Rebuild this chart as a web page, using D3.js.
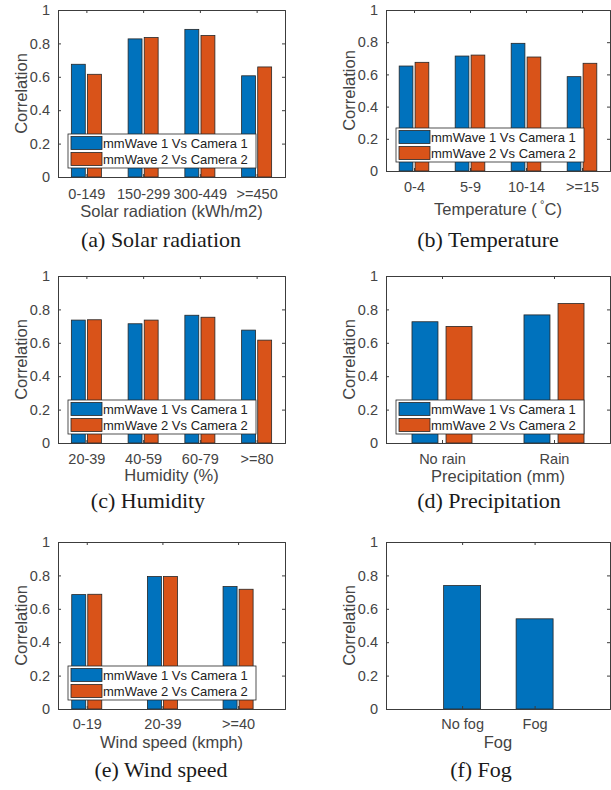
<!DOCTYPE html>
<html>
<head>
<meta charset="utf-8">
<script src="https://cdn.jsdelivr.net/npm/d3@7"></script>
<style>
  body { margin: 0; background: #fff; }
  svg { display: block; }
</style>
</head>
<body>
<svg id="fig" width="611" height="790"></svg>
<script>
// data
var seriesNames = ['mmWave 1 Vs Camera 1', 'mmWave 2 Vs Camera 2'];
var yTicks = [0, 0.2, 0.4, 0.6, 0.8, 1];

var solarCats = ['0-149', '150-299', '300-449', '>=450'];
var solarCam1 = [0.675, 0.827, 0.884, 0.606];
var solarCam2 = [0.615, 0.835, 0.847, 0.659];

var tempCats = ['0-4', '5-9', '10-14', '>=15'];
var tempCam1 = [0.652, 0.714, 0.793, 0.586];
var tempCam2 = [0.675, 0.720, 0.708, 0.669];

var humCats = ['20-39', '40-59', '60-79', '>=80'];
var humCam1 = [0.736, 0.714, 0.765, 0.676];
var humCam2 = [0.738, 0.736, 0.753, 0.616];

var precCats = ['No rain', 'Rain'];
var precCam1 = [0.726, 0.767];
var precCam2 = [0.698, 0.835];

var windCats = ['0-19', '20-39', '>=40'];
var windCam1 = [0.685, 0.793, 0.733];
var windCam2 = [0.687, 0.793, 0.717];

var fogCats = ['No fog', 'Fog'];
var fogCam1 = [0.739, 0.540];

var colors = ['#0072BD', '#D95319'];
var axisColor = '#3c3c3c';
var textColor = '#444';
var sans = '"Liberation Sans", Arial, Helvetica, sans-serif';
var serif = '"Liberation Serif", "Times New Roman", serif';

var svg = d3.select('#fig');

/* panel layout, one entry per subfigure */
var panels = [
  {cats: solarCats, series: [solarCam1, solarCam2], left: 58, right: 285, top: 10, bottom: 177,
   xlim: [0.5, 4.5], barW: 0.245, off: 0.142, xlabel: 'Solar radiation (kWh/m2)', tk: 21.5, lab: 40,
   caption: '(a) Solar radiation', capX: 161, capY: 247, legend: true},
  {cats: tempCats, series: [tempCam1, tempCam2], left: 386, right: 610, top: 10, bottom: 171,
   xlim: [0.5, 4.5], barW: 0.245, off: 0.142, xlabel: 'temp', tk: 21, lab: 44,
   caption: '(b) Temperature', capX: 488, capY: 247, legend: true},
  {cats: humCats, series: [humCam1, humCam2], left: 58, right: 285, top: 276, bottom: 443,
   xlim: [0.5, 4.5], barW: 0.245, off: 0.142, xlabel: 'Humidity (%)', tk: 20.5, lab: 38,
   caption: '(c) Humidity', capX: 148, capY: 508, legend: true},
  {cats: precCats, series: [precCam1, precCam2], left: 386, right: 610, top: 276, bottom: 443,
   xlim: [0.5, 2.5], barW: 0.232, off: 0.152, xlabel: 'Precipitation (mm)', tk: 20.5, lab: 39,
   caption: '(d) Precipitation', capX: 489, capY: 508, legend: true},
  {cats: windCats, series: [windCam1, windCam2], left: 58, right: 285, top: 542, bottom: 709,
   xlim: [0.62, 3.62], barW: 0.185, off: 0.106, xlabel: 'Wind speed (kmph)', tk: 19.5, lab: 38.5,
   caption: '(e) Wind speed', capX: 161, capY: 777, legend: true},
  {cats: fogCats, series: [fogCam1], left: 386, right: 610, top: 542, bottom: 709,
   xlim: [-0.05, 3.04], barW: 0.51, off: 0, xlabel: 'Fog', tk: 19.5, lab: 38.5,
   caption: '(f) Fog', capX: 481, capY: 777, legend: false}
];

panels.forEach(drawPanel);

function drawPanel(p) {
  var g = svg.append('g');
  var x = d3.scaleLinear().domain(p.xlim).range([p.left, p.right]);
  var y = d3.scaleLinear().domain([0, 1]).range([p.bottom, p.top]);
  var xTicks = p.cats.map(function(d, i) { return i + 1; });
  var n = p.series.length;

  // bars
  p.series.forEach(function(vals, s) {
    var shift = n === 1 ? 0 : (s === 0 ? -p.off : p.off);
    g.selectAll('rect.s' + s)
      .data(vals)
      .enter().append('rect')
      .attr('x', function(d, i) { return x(i + 1 + shift - p.barW / 2); })
      .attr('width', function() { return x(p.barW) - x(0); })
      .attr('y', function(d) { return y(d); })
      .attr('height', function(d) { return y(0) - y(d); })
      .style('fill', colors[s])
      .style('stroke', '#262626')
      .style('stroke-width', 0.8);
  });

  // axes: bottom / left with labels, top / right only ticks (box on)
  var tl = -3;
  var bottomAxis = d3.axisBottom(x).tickValues(xTicks).tickSize(tl).tickPadding(10)
    .tickFormat(function(d) { return p.cats[d - 1]; });
  var topAxis = d3.axisTop(x).tickValues(xTicks).tickSize(tl).tickFormat('');
  var leftAxis = d3.axisLeft(y).tickValues(yTicks).tickSize(tl).tickPadding(8)
    .tickFormat(function(d) { return d === 0 || d === 1 ? String(d) : d.toFixed(1); });
  var rightAxis = d3.axisRight(y).tickValues(yTicks).tickSize(tl).tickFormat('');

  var axes = [
    g.append('g').attr('transform', 'translate(0,' + p.bottom + ')').call(bottomAxis),
    g.append('g').attr('transform', 'translate(0,' + p.top + ')').call(topAxis),
    g.append('g').attr('transform', 'translate(' + p.left + ',0)').call(leftAxis),
    g.append('g').attr('transform', 'translate(' + p.right + ',0)').call(rightAxis)
  ];
  axes.forEach(function(a) {
    a.select('.domain').style('stroke', axisColor).style('stroke-width', 1);
    a.selectAll('.tick line').style('stroke', axisColor);
    a.selectAll('text').style('font-family', sans).style('font-size', '14.5px').style('fill', textColor);
  });
  axes[0].selectAll('.tick text').attr('dy', null).attr('y', p.tk);

  // y label
  g.append('text')
    .attr('transform', 'translate(' + (p.left - 31) + ',' + ((p.top + p.bottom) / 2) + ') rotate(-90)')
    .attr('text-anchor', 'middle')
    .style('font-family', sans).style('font-size', '16.5px').style('fill', textColor)
    .text('Correlation');

  // x label
  var xl = g.append('text')
    .attr('x', (p.left + p.right) / 2)
    .attr('y', p.bottom + p.lab)
    .attr('text-anchor', 'middle')
    .style('font-family', sans).style('font-size', '16.5px').style('fill', textColor);
  if (p.xlabel === 'temp') {
    xl.append('tspan').text('Temperature (\u2009');
    xl.append('tspan').attr('dy', -7).style('font-size', '11px').text('\u00b0');
    xl.append('tspan').attr('dy', 7).text('C)');
  } else {
    xl.text(p.xlabel);
  }

  // caption
  g.append('text')
    .attr('x', p.capX).attr('y', p.capY)
    .attr('text-anchor', 'middle')
    .style('font-family', serif).style('font-size', '22px').style('fill', '#1a1a1a')
    .text(p.caption);

  // legend
  if (p.legend) {
    var lx = p.left + 10, ly = p.bottom - 9 - 34;
    var lg = g.append('g').attr('transform', 'translate(' + lx + ',' + ly + ')');
    lg.append('rect').attr('width', 188).attr('height', 34)
      .style('fill', '#fff').style('stroke', '#262626').style('stroke-width', 0.8);
    seriesNames.forEach(function(name, s) {
      lg.append('rect').attr('x', 3).attr('y', 2.5 + s * 16).attr('width', 31).attr('height', 13)
        .style('fill', colors[s]).style('stroke', '#262626').style('stroke-width', 0.8);
      lg.append('text').attr('x', 35).attr('y', 13.5 + s * 16)
        .style('font-family', sans).style('font-size', '13px').style('fill', '#222')
        .text(name);
    });
  }
}
</script>
</body>
</html>
